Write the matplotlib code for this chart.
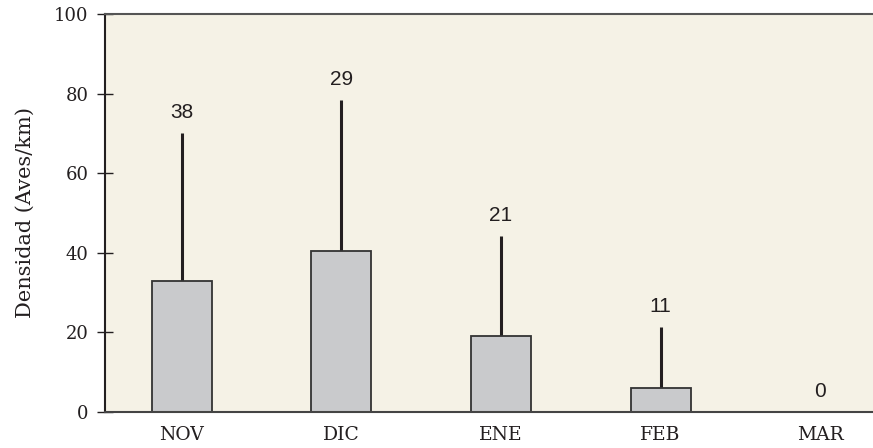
import numpy as np
import matplotlib.pyplot as plt

# Monthly bird density (mean + upper error) and sample size
months = ['NOV', 'DIC', 'ENE', 'FEB', 'MAR']
density = [33, 40.5, 19, 6, 0]
err_top = [70, 78.3, 44.3, 21.3, 0]
n_samples = [38, 29, 21, 11, 0]

fig = plt.figure(figsize=(8.73, 4.48), dpi=100)
ax = fig.add_axes([105 / 873, 36 / 448, 768 / 873, 398 / 448])
ax.set_facecolor('#f5f2e6')

x = np.arange(len(months))
ax.bar(x, density, width=0.376, color='#c9cacc', edgecolor='#333333', linewidth=1.3, zorder=2)
ax.vlines(x[:-1], np.array(density)[:-1], np.array(err_top)[:-1], color='#231f20', linewidth=2.2, zorder=1)

for xi, top, n in zip(x, err_top, n_samples):
    ax.text(xi, top + 2.8, str(n), ha='center', va='bottom', fontsize=15,
            family='Liberation Sans', color='#231f20')

ax.set_xlim(-0.48, 4.33)
ax.set_ylim(0, 100)
ax.set_yticks([0, 20, 40, 60, 80, 100])
ax.set_xticks(x)
ax.set_xticklabels(months, family='DejaVu Serif', fontsize=13.5, color='#231f20')
for lbl in ax.get_yticklabels():
    lbl.set_family('DejaVu Serif')
    lbl.set_fontsize(13)
    lbl.set_color('#231f20')
ax.tick_params(axis='y', direction='inout', length=12, width=1, color='#231f20', pad=6)
ax.tick_params(axis='x', length=0, pad=10)
ax.set_ylabel('Densidad (Aves/km)', family='DejaVu Serif', fontsize=15, color='#231f20', labelpad=14)

ax.spines['right'].set_visible(False)
ax.spines['top'].set_color('#555555')
ax.spines['top'].set_linewidth(1.5)
ax.spines['left'].set_color('#231f20')
ax.spines['left'].set_linewidth(1.5)
ax.spines['bottom'].set_color('#444444')
ax.spines['bottom'].set_linewidth(1.5)

fig.savefig('out.png', dpi=100)
